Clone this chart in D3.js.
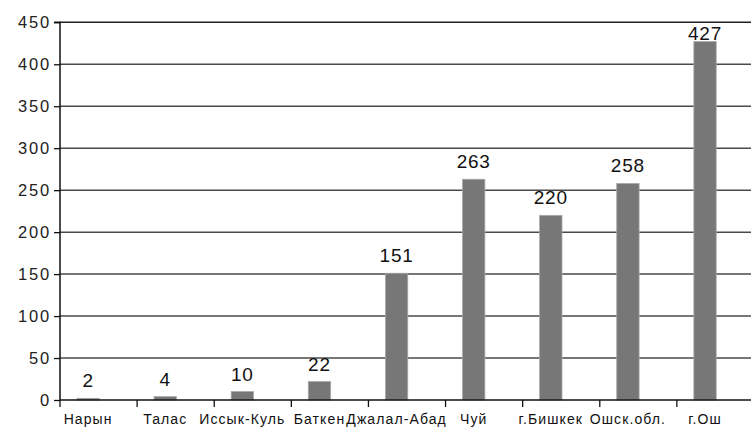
<!DOCTYPE html>
<html>
<head>
<meta charset="utf-8">
<script src="https://cdn.jsdelivr.net/npm/d3@7"></script>
<style>
  html, body { margin: 0; padding: 0; background: #fff; }
  svg { display: block; font-family: "Liberation Sans", Arial, sans-serif; }
</style>
</head>
<body>
<svg id="chart" width="751" height="432"></svg>
<script>
// Regions and values
const categories = ["Нарын", "Талас", "Иссык-Куль", "Баткен", "Джалал-Абад", "Чуй", "г.Бишкек", "Ошск.обл.", "г.Ош"];
const values = [2, 4, 10, 22, 151, 263, 220, 258, 427];
const yTicks = [0, 50, 100, 150, 200, 250, 300, 350, 400, 450];

const svg = d3.select("#chart");
const plotLeft = 60, plotRight = 754, plotTop = 22.3, plotBottom = 400;

const x = d3.scaleBand().domain(categories).range([plotLeft, plotRight]).padding(0);
const y = d3.scaleLinear().domain([0, 450]).range([plotBottom, plotTop]);

const step = x.step();
const barOffset = step * 0.22;
const barWidth = step * 0.29;

// Horizontal gridlines
svg.append("g").selectAll("line")
  .data(yTicks.filter(d => d > 0))
  .join("line")
  .attr("x1", plotLeft).attr("x2", 751)
  .attr("y1", d => y(d)).attr("y2", d => y(d))
  .attr("stroke", d => d === 450 ? "#222" : "#4a4a4a")
  .attr("stroke-width", 1.5);

// Bars
svg.append("g").selectAll("rect")
  .data(values)
  .join("rect")
  .attr("x", (d, i) => x(categories[i]) + barOffset)
  .attr("width", barWidth)
  .attr("y", d => y(d))
  .attr("height", d => plotBottom - y(d))
  .attr("fill", "#777")
  .attr("stroke", "#a8a8a8")
  .attr("stroke-width", 0.8);

// Value labels, kept inside the plot area
svg.append("g").selectAll("text")
  .data(values)
  .join("text")
  .attr("x", (d, i) => x(categories[i]) + barOffset + barWidth / 2)
  .attr("y", d => Math.max(y(d) - 11, plotTop + 18))
  .attr("text-anchor", "middle")
  .attr("font-size", 19)
  .attr("letter-spacing", 0.8)
  .attr("fill", "#111")
  .text(d => d);

// Y axis
const yAxis = d3.axisLeft(y).tickValues(yTicks).tickSize(6).tickPadding(3);
const gy = svg.append("g").attr("transform", `translate(${plotLeft},0)`).call(yAxis);
gy.select(".domain").attr("stroke", "#111").attr("stroke-width", 1.5).attr("d", `M-6,${plotTop}H0V${plotBottom}`);
gy.selectAll(".tick line").attr("stroke", "#111").attr("stroke-width", 1.3);
gy.selectAll(".tick text")
  .attr("font-size", 16.5)
  .attr("letter-spacing", 1.8)
  .attr("fill", "#222")
  .attr("font-family", "Liberation Sans, Arial, sans-serif");

// X axis line and category boundary ticks
svg.append("line")
  .attr("x1", plotLeft).attr("x2", 751)
  .attr("y1", plotBottom).attr("y2", plotBottom)
  .attr("stroke", "#111").attr("stroke-width", 1.5);
svg.append("g").selectAll("line")
  .data(categories)
  .join("line")
  .attr("x1", d => x(d)).attr("x2", d => x(d))
  .attr("y1", plotBottom).attr("y2", plotBottom + 7)
  .attr("stroke", "#111").attr("stroke-width", 1.3);

// Category labels
svg.append("g").selectAll("text")
  .data(categories)
  .join("text")
  .attr("x", d => x(d) + barOffset + barWidth / 2)
  .attr("y", 424)
  .attr("text-anchor", "middle")
  .attr("font-size", 14)
  .attr("letter-spacing", 1.1)
  .attr("fill", "#111")
  .text(d => d);
</script>
</body>
</html>
